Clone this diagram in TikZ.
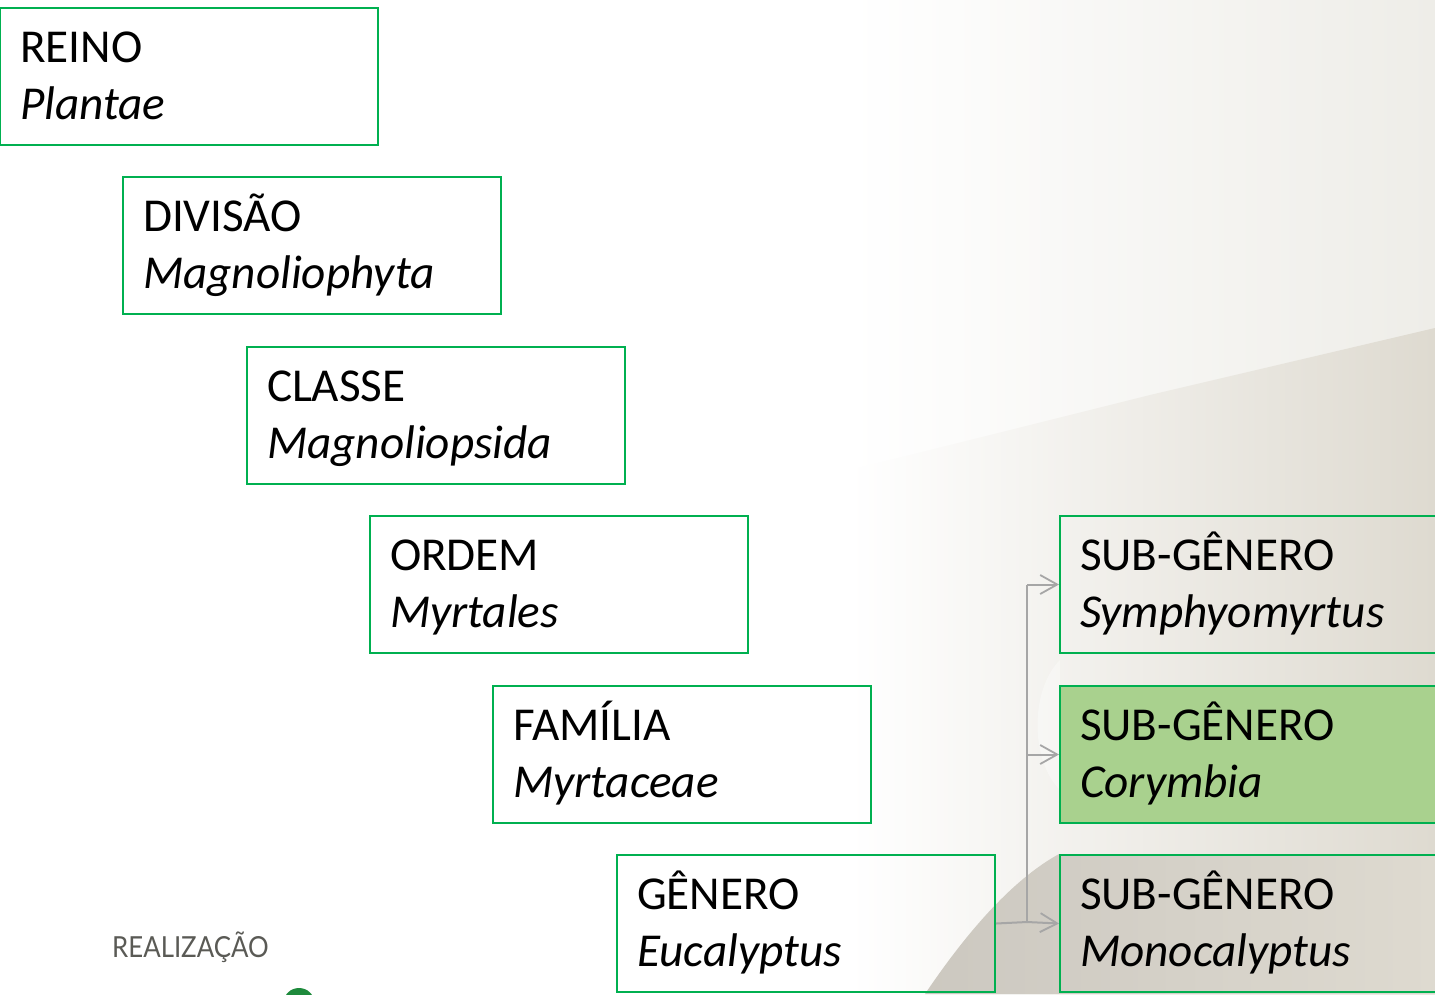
\documentclass[tikz,border=0pt]{standalone}
\usepackage{fontspec}
\setmainfont{Carlito}
\newfontfamily\realfont{Lato}
\usetikzlibrary{arrows.meta,calc}
\definecolor{boxgreen}{HTML}{00B050}
\definecolor{fillgreen}{HTML}{A9D18E}
\definecolor{conngray}{HTML}{A6A6A6}
\definecolor{bgright}{HTML}{EEEDE8}
\definecolor{bgdark}{HTML}{DEDAD0}
\definecolor{bgshadow}{HTML}{CCC8C0}
\definecolor{logogreen}{HTML}{1E8A3C}
\definecolor{realgray}{HTML}{5A5A55}
\tikzset{
  taxbox/.style={draw=boxgreen, line width=2pt, rectangle, anchor=north west,
    minimum width=378pt, minimum height=137pt, inner xsep=20pt, inner ysep=0pt,
    text width=338pt, align=left, text height=54.5pt, text depth=82.5pt,
    font={\fontsize{47.2pt}{57pt}\selectfont}},
  conn/.style={draw=conngray, line width=2pt},
  connarrow/.style={conn, -{Straight Barb[length=17pt,width=19pt,line width=1.8pt]}}
}
\begin{document}
\begin{tikzpicture}[x=1pt,y=-1pt]
\useasboundingbox (0,0) rectangle (1435,994);
\begin{scope}
\clip (0,0) rectangle (1435,994);
% background
\fill[white] (0,0) rectangle (1435,994);
\shade[left color=white, right color=bgright] (850,0) rectangle (1435,994);
\shade[left color=white, right color=bgdark]
  (850,470) -- (1150,395) -- (1435,328) -- (1435,994) -- (850,994) -- cycle;
\shade[left color=bgshadow, right color=bgdark]
  (925,994) .. controls (985,905) and (1030,870) .. (1059,854) -- (1435,854) -- (1435,994) -- cycle;
\fill[white, opacity=0.35]
  (1060,660) .. controls (1030,690) and (1030,760) .. (1060,790) -- cycle;
% logo fragment
\fill[logogreen] (299,1002) ellipse (15pt and 14pt);
\node[anchor=base west, inner sep=0pt, text=realgray, xscale=0.89,
  font={\realfont\fontsize{29pt}{34pt}\selectfont}] (real) at (112,957) {REALIZAÇÃO};

% boxes
\node[taxbox] (reino) at (-1,7) {REINO\\\textit{Plantae}};
\node[taxbox] (divisao) at (122,176) {DIVISÃO\\\textit{Magnoliophyta}};
\node[taxbox] (classe) at (246,346) {CLASSE\\\textit{Magnoliopsida}};
\node[taxbox] (ordem) at (369,515) {ORDEM\\\textit{Myrtales}};
\node[taxbox] (familia) at (492,685) {FAMÍLIA\\\textit{Myrtaceae}};
\node[taxbox] (genero) at (616,854) {GÊNERO\\\textit{Eucalyptus}};

\node[taxbox] (sub1) at (1059,515) {SUB-GÊNERO\\\textit{Symphyomyrtus}};
\node[taxbox, fill=fillgreen] (sub2) at (1059,685) {SUB-GÊNERO\\\textit{Corymbia}};
\node[taxbox] (sub3) at (1059,854) {SUB-GÊNERO\\\textit{Monocalyptus}};

% connectors
\coordinate (bus) at (1027,922);
\draw[conn] (genero.east) -- (bus);
\draw[conn] (bus) -- (bus |- sub1.west);
\draw[connarrow] (bus) -- (sub3.west);
\draw[connarrow] (bus |- sub2.west) -- (sub2.west);
\draw[connarrow] (bus |- sub1.west) -- (sub1.west);
\end{scope}
\end{tikzpicture}
\end{document}
